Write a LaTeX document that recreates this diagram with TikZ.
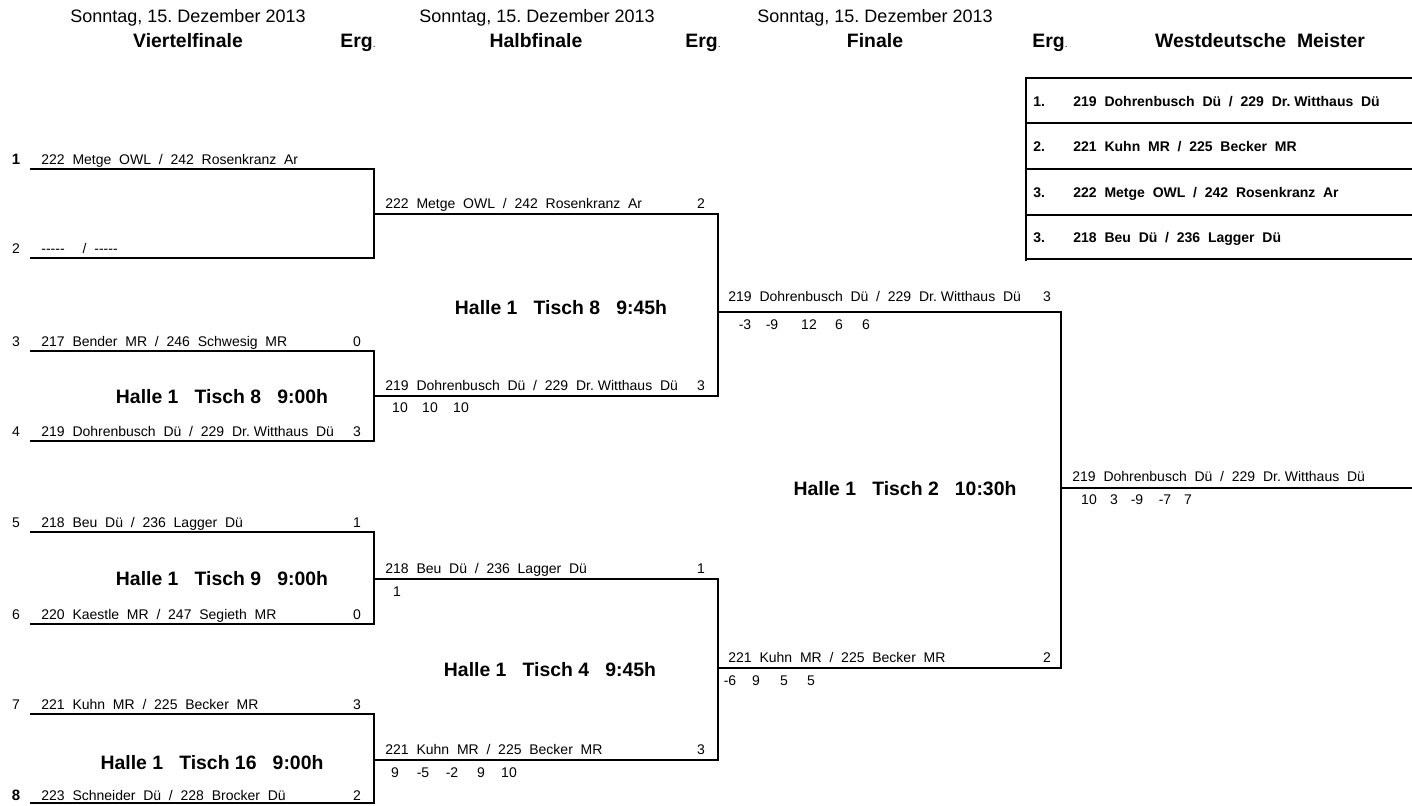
\documentclass[tikz,border=0pt]{standalone}
\usepackage{fontspec}
\setmainfont{Liberation Sans}
\usepackage{tikz}
\usetikzlibrary{positioning}
\frenchspacing

\begin{document}
\begin{tikzpicture}[x=0.5pt,y=-0.5pt,
  bline/.style={line width=1pt},
  pair/.style={anchor=base west,yshift=-2.5pt,inner sep=0pt,font=\fontsize{7}{8}\selectfont},
  seed/.style={anchor=base,yshift=-2.5pt,inner sep=0pt,font=\fontsize{7}{8}\selectfont},
  bseed/.style={anchor=base,yshift=-2.7pt,inner sep=0pt,font=\bfseries\fontsize{7.5}{9}\selectfont},
  res/.style={anchor=base,yshift=-2.5pt,inner sep=0pt,font=\fontsize{7}{8}\selectfont},
  venue/.style={anchor=base,yshift=-3.5pt,inner sep=0pt,font=\bfseries\fontsize{9.7}{11}\selectfont},
  date/.style={anchor=base,yshift=-3.2pt,inner sep=0pt,font=\fontsize{9}{11}\selectfont},
  head/.style={anchor=base,yshift=-3.5pt,inner sep=0pt,font=\bfseries\fontsize{9.7}{11}\selectfont},
  rank/.style={anchor=base west,yshift=-2.5pt,inner sep=0pt,font=\bfseries\fontsize{7}{8}\selectfont}]
\useasboundingbox (0,0) rectangle (1412,805);

% headings
\node[date] (d1) at (188,16) {Sonntag, 15.\ Dezember 2013};
\node[date] (d2) at (537,16) {Sonntag, 15.\ Dezember 2013};
\node[date] (d3) at (875,16) {Sonntag, 15.\ Dezember 2013};
\node[head] (h1) at (188,40) {Viertelfinale};
\node[head] (e1) at (358,40) {Erg{\mdseries\fontsize{5}{6}\selectfont.}};
\node[head] (h2) at (536,40) {Halbfinale};
\node[head] (e2) at (703,40) {Erg{\mdseries\fontsize{5}{6}\selectfont.}};
\node[head] (h3) at (875,40) {Finale};
\node[head] (e3) at (1050,40) {Erg{\mdseries\fontsize{5}{6}\selectfont.}};
\node[head] (h4) at (1260,40) {Westdeutsche~ Meister};

% Viertelfinale
\node[bseed] (n1) at (16,159) {1};
\node[pair] (q1) at (41,159) {222~ Metge~ OWL~ /~ 242~ Rosenkranz~ Ar};
\node[seed] (n2) at (16,248) {2};
\node[pair] (q2) at (41,248) {-{}-{}-{}-{}-\hspace{9pt}/~ -{}-{}-{}-{}-};
\draw[bline] (30,169) -| (374,258) -- (30,258);

\node[seed] (n3) at (16,341) {3};
\node[pair] (q3) at (41,341) {217~ Bender~ MR~ /~ 246~ Schwesig~ MR};
\node[res] (q3r) at (357,341) {0};
\node[venue] (v1) at (222,396) {Halle 1~~ Tisch 8~~ 9:00h};
\node[seed] (n4) at (16,431) {4};
\node[pair] (q4) at (41,431) {219~ Dohrenbusch~ Dü~ /~ 229~ Dr.\ Witthaus~ Dü};
\node[res] (q4r) at (357,431) {3};
\draw[bline] (30,351) -| (374,441) -- (30,441);

\node[seed] (n5) at (16,522) {5};
\node[pair] (q5) at (41,522) {218~ Beu~ Dü~ /~ 236~ Lagger~ Dü};
\node[res] (q5r) at (357,522) {1};
\node[venue] (v2) at (222,578) {Halle 1~~ Tisch 9~~ 9:00h};
\node[seed] (n6) at (16,614) {6};
\node[pair] (q6) at (41,614) {220~ Kaestle~ MR~ /~ 247~ Segieth~ MR};
\node[res] (q6r) at (357,614) {0};
\draw[bline] (30,532) -| (374,624) -- (30,624);

\node[seed] (n7) at (16,704) {7};
\node[pair] (q7) at (41,704) {221~ Kuhn~ MR~ /~ 225~ Becker~ MR};
\node[res] (q7r) at (357,704) {3};
\node[venue] (v3) at (212,762) {Halle 1~~ Tisch 16~~ 9:00h};
\node[bseed] (n8) at (16,795) {8};
\node[pair] (q8) at (41,795) {223~ Schneider~ Dü~ /~ 228~ Brocker~ Dü};
\node[res] (q8r) at (357,795) {2};
\draw[bline] (30,714) -| (374,803) -- (30,803);

% Halbfinale
\node[pair] (s1) at (385,203) {222~ Metge~ OWL~ /~ 242~ Rosenkranz~ Ar};
\node[res] (s1r) at (701,203) {2};
\node[venue] (v4) at (561,307) {Halle 1~~ Tisch 8~~ 9:45h};
\node[pair] (s2) at (385,385) {219~ Dohrenbusch~ Dü~ /~ 229~ Dr.\ Witthaus~ Dü};
\node[res] (s2r) at (701,385) {3};
\foreach \x/\v [count=\i] in {400/10,430/10,461/10}
  \node[res] (s2s\i) at (\x,407) {\v};
\draw[bline] (374,214) -| (718,396) -- (374,396);

\node[pair] (s3) at (385,568) {218~ Beu~ Dü~ /~ 236~ Lagger~ Dü};
\node[res] (s3r) at (701,568) {1};
\node[res] (s3s1) at (397,591) {1};
\node[venue] (v5) at (550,669) {Halle 1~~ Tisch 4~~ 9:45h};
\node[pair] (s4) at (385,749) {221~ Kuhn~ MR~ /~ 225~ Becker~ MR};
\node[res] (s4r) at (701,749) {3};
\foreach \x/\v [count=\i] in {395/9,423/-5,452/-2,481/9,509/10}
  \node[res] (s4s\i) at (\x,772) {\v};
\draw[bline] (374,579) -| (718,760) -- (374,760);

% Finale
\node[pair] (f1) at (728,296) {219~ Dohrenbusch~ Dü~ /~ 229~ Dr.\ Witthaus~ Dü};
\node[res] (f1r) at (1047,296) {3};
\foreach \x/\v [count=\i] in {745/-3,772/-9,809/12,839/6,866/6}
  \node[res] (f1s\i) at (\x,324) {\v};
\node[venue] (v6) at (905,488) {Halle 1~~ Tisch 2~~ 10:30h};
\node[pair] (f2) at (728,657) {221~ Kuhn~ MR~ /~ 225~ Becker~ MR};
\node[res] (f2r) at (1047,657) {2};
\foreach \x/\v [count=\i] in {730/-6,756/9,784/5,811/5}
  \node[res] (f2s\i) at (\x,680) {\v};
\draw[bline] (718,312) -| (1061,668) -- (718,668);

% Sieger
\node[pair] (w) at (1072,476) {219~ Dohrenbusch~ Dü~ /~ 229~ Dr.\ Witthaus~ Dü};
\foreach \x/\v [count=\i] in {1089/10,1114/3,1137/-9,1165/-7,1188/7}
  \node[res] (ws\i) at (\x,499) {\v};
\draw[bline] (1061,488) -- (1412,488);

% Westdeutsche Meister
\draw[bline] (1412,78) -- (1026,78) -- (1026,261);
\foreach \y in {123,169,215,259}
  \draw[bline] (1026,\y) -- (1412,\y);
\node[rank] (r1) at (1033,101) {1.};
\node[rank] (p1) at (1073,101) {219~ Dohrenbusch~ Dü~ /~ 229~ Dr.\ Witthaus~ Dü};
\node[rank] (r2) at (1033,146) {2.};
\node[rank] (p2) at (1073,146) {221~ Kuhn~ MR~ /~ 225~ Becker~ MR};
\node[rank] (r3) at (1033,192) {3.};
\node[rank] (p3) at (1073,192) {222~ Metge~ OWL~ /~ 242~ Rosenkranz~ Ar};
\node[rank] (r4) at (1033,237) {3.};
\node[rank] (p4) at (1073,237) {218~ Beu~ Dü~ /~ 236~ Lagger~ Dü};
\end{tikzpicture}
\end{document}
